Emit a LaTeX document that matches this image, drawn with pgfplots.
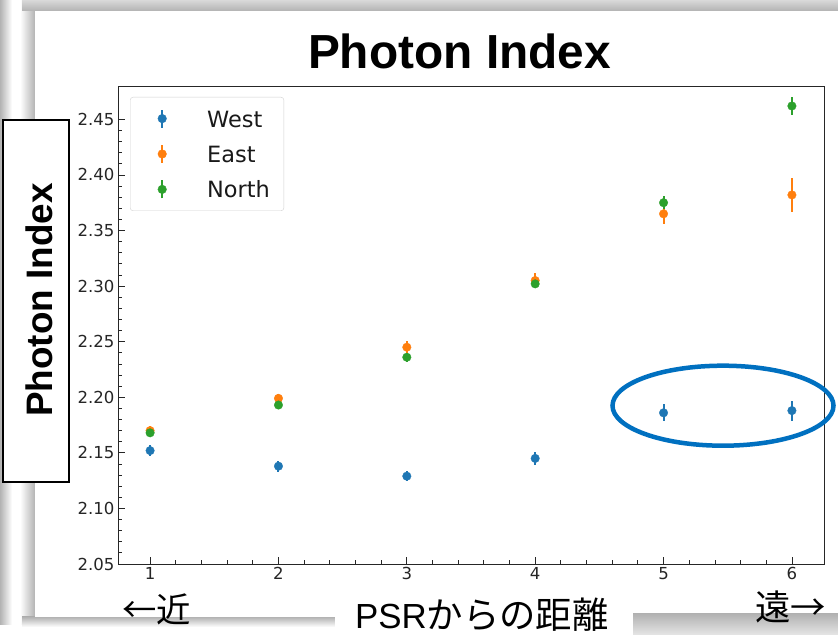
\documentclass[border=0pt]{standalone}
\usepackage{fontspec}
\usepackage{pgfplots}
\pgfplotsset{compat=1.18}
\usepackage{pgfplotstable}
\setmainfont{DejaVu Sans}
\newfontfamily\arialfont{Liberation Sans}
\newfontfamily\jpfont{Noto Sans CJK JP}

\definecolor{tabblue}{HTML}{1F77B4}
\definecolor{taborange}{HTML}{FF7F0E}
\definecolor{tabgreen}{HTML}{2CA02C}
\definecolor{ringblue}{HTML}{0070C0}

% photon index vs. region number, with 1-sigma errors
\pgfplotstableread{
x  y      e
1  2.152  0.005
2  2.138  0.005
3  2.129  0.0045
4  2.145  0.006
5  2.186  0.0075
6  2.188  0.009
}\west
\pgfplotstableread{
x  y      e
1  2.170  0.004
2  2.199  0.004
3  2.245  0.0055
4  2.305  0.007
5  2.365  0.0095
6  2.382  0.015
}\east
\pgfplotstableread{
x  y      e
1  2.168  0.004
2  2.193  0.004
3  2.236  0.004
4  2.302  0.004
5  2.375  0.006
6  2.462  0.008
}\north

\pgfplotsset{
  errpt/.style={
    only marks, mark=*, mark size=4.3bp,
    color=#1, mark options={draw=#1, fill=#1, line width=0.3bp},
    error bars/y dir=both, error bars/y explicit, error bars/error mark=none,
    error bars/error bar style={line width=2bp, #1},
    forget plot,
  },
  errleg/.style={
    legend image code/.code={
      \path[draw=none, fill=none] (0bp,-1bp) rectangle (63bp,1bp);
      \draw[#1, line width=2bp] (22bp,-9bp) -- (22bp,9bp);
      \fill[#1] (22bp,0bp) circle (4.3bp);
    }
  },
}

\begin{document}
\begin{tikzpicture}[x=1bp,y=1bp]
\path[use as bounding box] (0,0) rectangle (838,635);

% slide frame and its shadows
\shade[left color=gray!60, right color=white] (0,10) rectangle (12,635);
\shade[left color=white, right color=gray!60] (20,10) rectangle (35,635);
\shade[top color=gray!30, bottom color=gray!60] (22,624) rectangle (838,635);
\shade[top color=gray!60, bottom color=white] (22,8) rectangle (838,18);
\fill[white] (35,18) rectangle (838,624);
\shade[top color=gray!60, bottom color=gray!20] (633,0) rectangle (838,21);

\begin{axis}[
  at={(118bp,71bp)}, anchor=south west,
  scale only axis, width=706bp, height=478bp,
  xmin=0.75, xmax=6.25, ymin=2.05, ymax=2.48,
  xtick={1,2,3,4,5,6},
  ytick={2.05,2.10,2.15,2.20,2.25,2.30,2.35,2.40,2.45},
  yticklabel style={/pgf/number format/.cd, fixed, fixed zerofill, precision=2},
  minor x tick num=4, minor y tick num=4,
  tick align=inside, tick pos=left,
  major tick length=6.5bp, minor tick length=3.5bp,
  tick style={black!85, line width=0.8bp},
  axis line style={black!85, line width=0.9bp},
  ticklabel style={font=\fontsize{16.6}{18}\selectfont, text=black!85},
  /pgf/number format/assume math mode=true,
  legend cell align=left,
  legend style={
    at={(0,1)}, anchor=north west, xshift=12bp, yshift=-11bp,
    draw=black!18, rounded corners=3bp, fill=white,
    font=\fontsize{22.5}{26}\selectfont, text=black!90,
    nodes={text height=17bp, text depth=0bp, inner ysep=9.2bp, inner xsep=4bp},
    inner xsep=10bp, inner ysep=3.7bp, row sep=0bp,
  },
]
\addlegendimage{errleg=tabblue}
\addlegendentry{West}
\addlegendimage{errleg=taborange}
\addlegendentry{East}
\addlegendimage{errleg=tabgreen}
\addlegendentry{North}
\addplot[errpt=tabblue] table[x=x, y=y, y error=e] {\west};
\addplot[errpt=taborange] table[x=x, y=y, y error=e] {\east};
\addplot[errpt=tabgreen] table[x=x, y=y, y error=e] {\north};
\end{axis}

% title
\node[anchor=base, font=\arialfont\bfseries\fontsize{48}{52}\selectfont] at (459.5,566) {Photon Index};

% boxed y label
\draw[fill=white, line width=1.5bp] (3,153) rectangle (69,515);
\node[anchor=base, rotate=90, font=\arialfont\bfseries\fontsize{37}{40}\selectfont] at (52,335) {Photon Index};

% x label with its white backing
\fill[white] (335,0) rectangle (633,37);
\node[anchor=base west, inner sep=0pt] at (355,6) {\arialfont\fontsize{35}{38}\selectfont PSR\jpfont\fontsize{36.5}{38}\selectfont からの距離};
\node[anchor=base west, inner sep=0pt, font=\jpfont\fontsize{34.5}{36}\selectfont] at (122,12) {←近};
\node[anchor=base west, inner sep=0pt, font=\jpfont\fontsize{35.5}{36}\selectfont] at (755,14) {遠→};

% highlight around the outer West regions
\draw[ringblue, line width=4.5bp] (723,229.3) ellipse [x radius=110.5, y radius=40];
\end{tikzpicture}
\end{document}
